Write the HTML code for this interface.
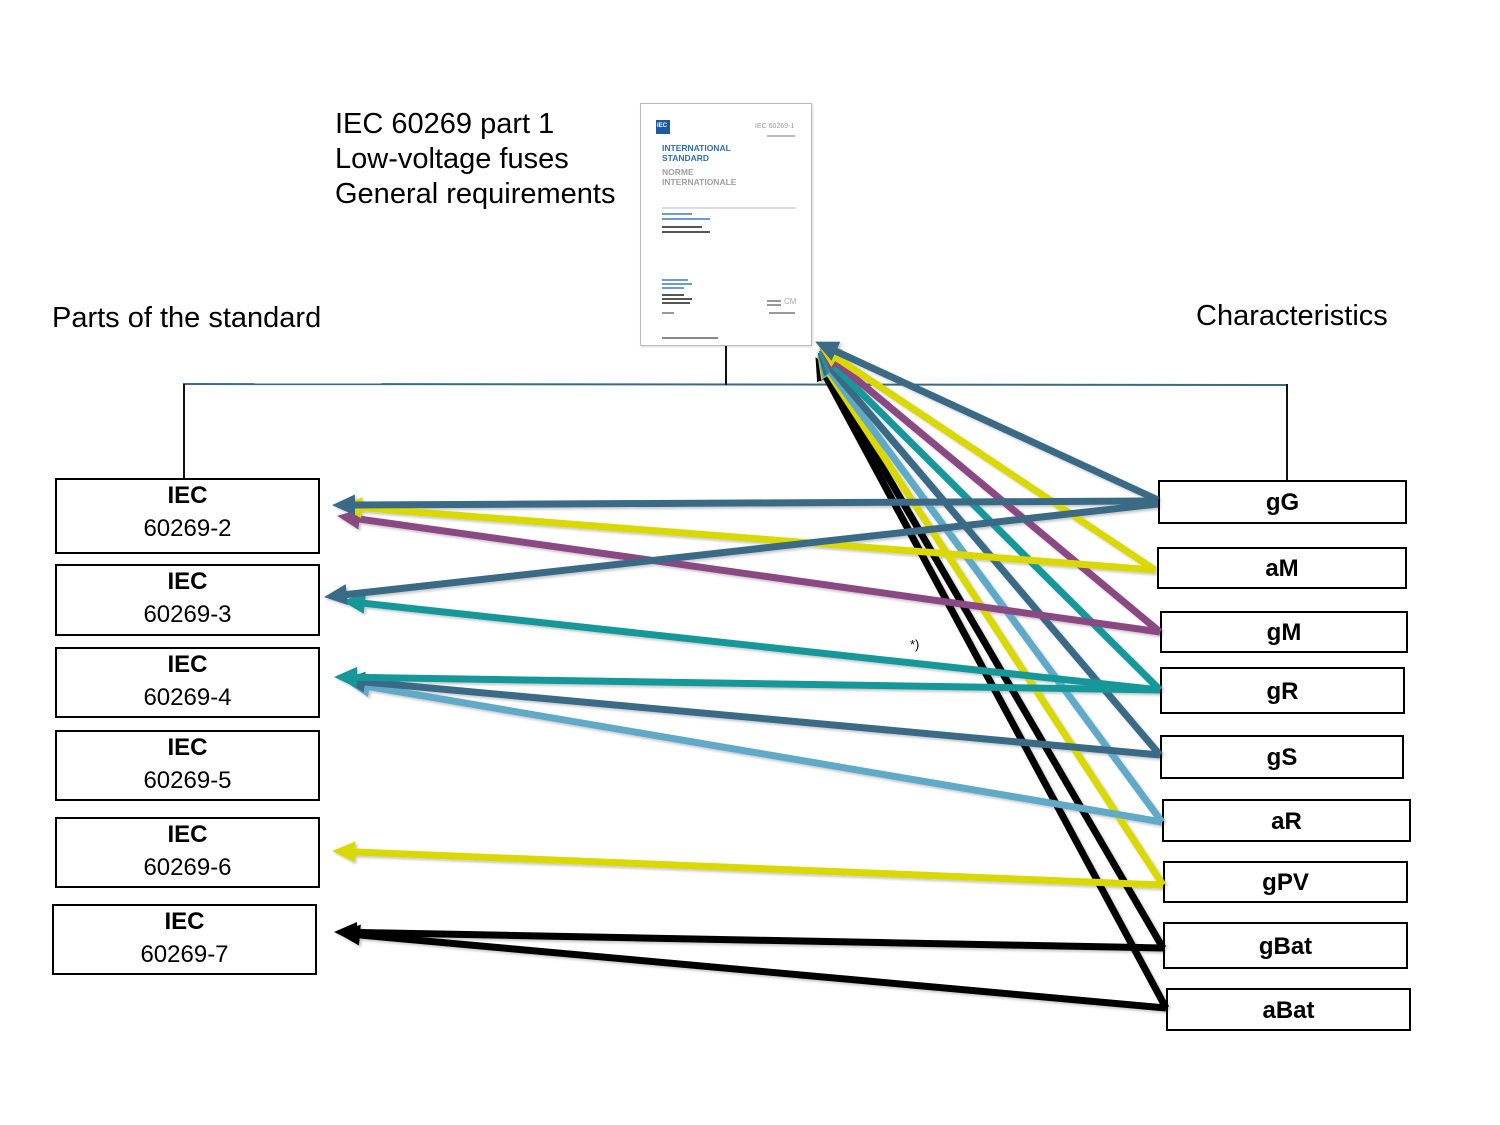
<!DOCTYPE html>
<html>
<head>
<meta charset="utf-8">
<style>
  html,body{margin:0;padding:0;background:#fff;}
  body{width:1500px;height:1125px;position:relative;overflow:hidden;font-family:"Liberation Sans",Arial,sans-serif;color:#000;}
  .t{position:absolute;white-space:nowrap;}
  .box{position:absolute;border:2px solid #000;box-sizing:border-box;background:#fff;text-align:center;font-size:24px;}
  .lb .a{position:absolute;left:0;right:0;font-weight:bold;}
  .lb .b{position:absolute;left:0;right:0;}
  .rb{font-weight:bold;}
  .doc{position:absolute;left:640px;top:103px;width:172px;height:243px;border:1.5px solid #b9b9b9;box-sizing:border-box;background:#fff;box-shadow:1px 1px 2px rgba(0,0,0,0.15);}
  .doc div{position:absolute;white-space:nowrap;}
</style>
</head>
<body>

<!-- Title text -->
<div class="t" style="left:335px;top:107px;font-size:29px;line-height:35px;">IEC 60269 part 1<br>Low-voltage fuses<br>General requirements</div>
<div class="t" style="left:52px;top:301px;font-size:29px;line-height:35px;">Parts of the standard</div>
<div class="t" style="left:1196px;top:299px;font-size:29px;line-height:35px;">Characteristics</div>

<!-- Document thumbnail -->
<div class="doc">
  <div style="left:15px;top:16px;width:14px;height:14px;background:#1d5aa6;"></div>
  <div style="left:16px;top:19px;font-size:6px;color:#fff;font-weight:bold;">IEC</div>
  <div style="left:114px;top:19px;font-size:7px;color:#999;">IEC 60269-1</div>
  <div style="left:126px;top:31px;width:28px;height:2px;background:#bbb;"></div>
  <div style="left:21px;top:39px;font-size:8.5px;line-height:10px;color:#2d6fb0;font-weight:bold;">INTERNATIONAL<br>STANDARD</div>
  <div style="left:21px;top:63px;font-size:8.5px;line-height:10px;color:#a0a0a0;font-weight:bold;">NORME<br>INTERNATIONALE</div>
  <div style="left:21px;top:103px;width:134px;height:2px;background:#ddd;"></div>
  <div style="left:21px;top:109px;width:30px;height:2px;background:#6b9bd0;"></div>
  <div style="left:21px;top:114px;width:48px;height:2px;background:#6b9bd0;"></div>
  <div style="left:21px;top:122px;width:40px;height:2px;background:#555;"></div>
  <div style="left:21px;top:127px;width:48px;height:2px;background:#555;"></div>
  <div style="left:21px;top:175px;width:26px;height:1.5px;background:#6b9bd0;"></div>
  <div style="left:21px;top:179px;width:30px;height:1.5px;background:#6b9bd0;"></div>
  <div style="left:21px;top:183px;width:22px;height:1.5px;background:#6b9bd0;"></div>
  <div style="left:21px;top:190px;width:22px;height:1.5px;background:#555;"></div>
  <div style="left:21px;top:194px;width:30px;height:1.5px;background:#555;"></div>
  <div style="left:21px;top:198px;width:28px;height:1.5px;background:#555;"></div>
  <div style="left:126px;top:196px;width:14px;height:1.5px;background:#999;"></div>
  <div style="left:126px;top:200px;width:14px;height:1.5px;background:#999;"></div>
  <div style="left:143px;top:193px;font-size:8px;color:#aaa;">CM</div>
  <div style="left:21px;top:208px;width:12px;height:1.5px;background:#999;"></div>
  <div style="left:128px;top:208px;width:26px;height:1.5px;background:#999;"></div>
  <div style="left:21px;top:233px;width:56px;height:1.5px;background:#888;"></div>
</div>

<!-- Left boxes -->
<div class="box lb" style="left:55px;top:478px;width:265px;height:76px;"><span class="a" style="top:2px;">IEC</span><span class="b" style="top:35px;">60269-2</span></div>
<div class="box lb" style="left:55px;top:564px;width:265px;height:72px;"><span class="a" style="top:2px;">IEC</span><span class="b" style="top:35px;">60269-3</span></div>
<div class="box lb" style="left:55px;top:647px;width:265px;height:71px;"><span class="a" style="top:2px;">IEC</span><span class="b" style="top:35px;">60269-4</span></div>
<div class="box lb" style="left:55px;top:730px;width:265px;height:71px;"><span class="a" style="top:2px;">IEC</span><span class="b" style="top:35px;">60269-5</span></div>
<div class="box lb" style="left:55px;top:817px;width:265px;height:71px;"><span class="a" style="top:2px;">IEC</span><span class="b" style="top:35px;">60269-6</span></div>
<div class="box lb" style="left:52px;top:904px;width:265px;height:71px;"><span class="a" style="top:2px;">IEC</span><span class="b" style="top:35px;">60269-7</span></div>

<!-- Right boxes -->
<div class="box rb" style="left:1158px;top:480px;width:249px;height:44px;line-height:42px;">gG</div>
<div class="box rb" style="left:1157px;top:547px;width:250px;height:42px;line-height:40px;">aM</div>
<div class="box rb" style="left:1160px;top:611px;width:248px;height:42px;line-height:40px;">gM</div>
<div class="box rb" style="left:1160px;top:667px;width:245px;height:47px;line-height:45px;">gR</div>
<div class="box rb" style="left:1160px;top:735px;width:244px;height:44px;line-height:42px;">gS</div>
<div class="box rb" style="left:1162px;top:799px;width:249px;height:43px;line-height:41px;">aR</div>
<div class="box rb" style="left:1163px;top:861px;width:245px;height:42px;line-height:40px;">gPV</div>
<div class="box rb" style="left:1163px;top:922px;width:245px;height:47px;line-height:45px;">gBat</div>
<div class="box rb" style="left:1166px;top:988px;width:245px;height:43px;line-height:42px;">aBat</div>

<div class="t" style="left:910px;top:637px;font-size:13px;">*)</div>

<svg width="1500" height="1125" style="position:absolute;left:0;top:0;" xmlns="http://www.w3.org/2000/svg">
  <defs>
    <filter id="sh" x="-5%" y="-5%" width="110%" height="110%">
      <feDropShadow dx="2" dy="2" stdDeviation="1.2" flood-color="#000" flood-opacity="0.22"/>
    </filter>
    <marker id="mT" markerUnits="userSpaceOnUse" markerWidth="23" markerHeight="21" viewBox="0 0 23 21" refX="8" refY="10.5" orient="auto"><path d="M0,0 L23,10.5 L0,21 Z" fill="#3a6b86"/></marker>
    <marker id="mY" markerUnits="userSpaceOnUse" markerWidth="23" markerHeight="21" viewBox="0 0 23 21" refX="8" refY="10.5" orient="auto"><path d="M0,0 L23,10.5 L0,21 Z" fill="#d9d800"/></marker>
    <marker id="mP" markerUnits="userSpaceOnUse" markerWidth="23" markerHeight="21" viewBox="0 0 23 21" refX="8" refY="10.5" orient="auto"><path d="M0,0 L23,10.5 L0,21 Z" fill="#8a4a82"/></marker>
    <marker id="mG" markerUnits="userSpaceOnUse" markerWidth="23" markerHeight="21" viewBox="0 0 23 21" refX="8" refY="10.5" orient="auto"><path d="M0,0 L23,10.5 L0,21 Z" fill="#15979a"/></marker>
    <marker id="mL" markerUnits="userSpaceOnUse" markerWidth="23" markerHeight="21" viewBox="0 0 23 21" refX="8" refY="10.5" orient="auto"><path d="M0,0 L23,10.5 L0,21 Z" fill="#60aac8"/></marker>
    <marker id="mK" markerUnits="userSpaceOnUse" markerWidth="23" markerHeight="21" viewBox="0 0 23 21" refX="8" refY="10.5" orient="auto"><path d="M0,0 L23,10.5 L0,21 Z" fill="#000"/></marker>
  </defs>

  <!-- tree connectors -->
  <g stroke-width="2" fill="none">
    <line x1="183" y1="384" x2="1288" y2="385" stroke="#3a6b80"/>
    <line x1="726" y1="346" x2="726" y2="385" stroke="#111"/>
    <line x1="184" y1="384" x2="184" y2="478" stroke="#111"/>
    <line x1="1287" y1="384" x2="1287" y2="480" stroke="#111"/>
  </g>

  <g fill="none" stroke-width="7" stroke-linecap="butt" filter="url(#sh)">
    <!-- black -->
    <line x1="1166" y1="1008" x2="822.6" y2="370.3" stroke="#000" marker-end="url(#mK)"/>
    <line x1="1163" y1="948" x2="825.1" y2="369.1" stroke="#000" marker-end="url(#mK)"/>
    <line x1="1166" y1="1008" x2="352" y2="934.3" stroke="#000" marker-end="url(#mK)"/>
    <line x1="1163" y1="948" x2="349" y2="932.3" stroke="#000" marker-end="url(#mK)"/>
    <!-- gPV yellow -->
    <line x1="1163" y1="885" x2="825.6" y2="367.7" stroke="#d9d800" marker-end="url(#mY)"/>
    <line x1="1163" y1="885" x2="347" y2="851.6" stroke="#d9d800" marker-end="url(#mY)"/>
    <!-- aR light blue -->
    <line x1="1162" y1="822" x2="826.3" y2="366.3" stroke="#60aac8" marker-end="url(#mL)"/>
    <line x1="1162" y1="822" x2="361.8" y2="685.4" stroke="#60aac8" marker-end="url(#mL)"/>
    <!-- gS dark teal -->
    <line x1="1160" y1="755" x2="827.1" y2="363.7" stroke="#3a6b86" marker-end="url(#mT)"/>
    <line x1="1160" y1="755" x2="356.9" y2="681.3" stroke="#3a6b86" marker-end="url(#mT)"/>
    <!-- gR teal -->
    <line x1="1160" y1="690" x2="828.9" y2="360.9" stroke="#15979a" marker-end="url(#mG)"/>
    <line x1="1160" y1="690" x2="356.9" y2="602.5" stroke="#15979a" marker-end="url(#mG)"/>
    <line x1="1160" y1="690" x2="349" y2="677.2" stroke="#15979a" marker-end="url(#mG)"/>
    <!-- gM purple -->
    <line x1="1160" y1="632" x2="830.8" y2="358.0" stroke="#8a4a82" marker-end="url(#mP)"/>
    <line x1="1160" y1="632" x2="351.9" y2="518" stroke="#8a4a82" marker-end="url(#mP)"/>
    <!-- aM yellow -->
    <line x1="1155" y1="570" x2="830.6" y2="353.8" stroke="#d9d800" marker-end="url(#mY)"/>
    <line x1="1155" y1="570" x2="354" y2="507.1" stroke="#d9d800" marker-end="url(#mY)"/>
    <!-- gG dark teal -->
    <line x1="1158" y1="504" x2="338.9" y2="595.4" stroke="#3a6b86" marker-end="url(#mT)"/>
    <line x1="1158" y1="501" x2="347" y2="505" stroke="#3a6b86" marker-end="url(#mT)"/>
    <line x1="1158" y1="500" x2="828.7" y2="347.9" stroke="#3a6b86" marker-end="url(#mT)"/>
  </g>
</svg>

</body>
</html>
